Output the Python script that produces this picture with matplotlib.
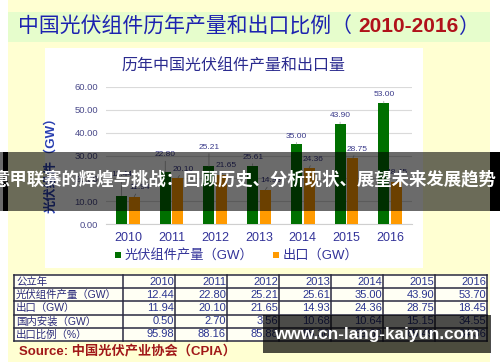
import numpy as np
import matplotlib
matplotlib.use("Agg")
import matplotlib.pyplot as plt
from matplotlib.patches import Rectangle

# ---- data ----
years = ["2010", "2011", "2012", "2013", "2014", "2015", "2016"]
output_gw = [12.44, 22.80, 25.21, 25.61, 35.00, 43.90, 53.00]   # bars in chart
export_gw = [11.94, 20.10, 21.65, 14.93, 24.36, 28.75, 18.45]

row_names = ["公立年", "光伏组件产量（GW）", "出口（GW）", "国内安装（GW）", "出口比例（%）"]
tbl_output = ["12.44", "22.80", "25.21", "25.61", "35.00", "43.90", "53.70"]
tbl_export = ["11.94", "20.10", "21.65", "14.93", "24.36", "28.75", "18.45"]
tbl_domestic = ["0.50", "2.70", "3.56", "10.68", "10.64", "15.15", "34.55"]
tbl_ratio = ["95.98", "88.16", "85.88", "58.30", "69.60", "65.49", "34.36"]

title_main = "中国光伏组件历年产量和出口比例（"
title_years = "2010-2016"
chart_title = "历年中国光伏组件产量和出口量"
banner = "意甲联赛的辉煌与挑战：回顾历史、分析现状、展望未来发展趋势"
watermark = "www.cn-lang-kaiyun.com"

# label offsets (pixels) for the bar value labels
green_dy = [21, 17, 19, 8, 8, 8, 8]
orange_dx = [5, 5, 5, 6, 4, 4, 0]
orange_dy = [9, 9, 9, 9, 9, 9, 9]

CJK = ["Noto Sans CJK SC", "DejaVu Sans"]
LAT = ["Liberation Sans", "Noto Sans CJK SC"]
NAVY = "#333399"
W, H = 500, 362
PT = 72 / 100.0  # px -> pt

fig = plt.figure(figsize=(5, 3.62), dpi=100)

# background layer in pixel coordinates
bg = fig.add_axes([0, 0, 1, 1], zorder=0)
bg.set_xlim(0, W)
bg.set_ylim(H, 0)
bg.axis("off")
bg.add_patch(Rectangle((8, 0), 482, H, color="#ffffd2", lw=0))
bg.add_patch(Rectangle((8, 12), 482, 30, color="#e6fdcc", lw=0))
bg.add_patch(Rectangle((45, 48), 378, 220, color="white", lw=0))

bg.text(18, 27, title_main, family=CJK, fontsize=15, color="#1c22b0",
        ha="left", va="center")
bg.text(358, 27, title_years, family=LAT, fontsize=15, color="#b0121a",
        weight="bold", ha="left", va="center")
bg.text(458, 27, "）", family=CJK, fontsize=15, color="#1c22b0",
        ha="left", va="center")

bg.text(233, 66, chart_title, family=CJK, fontsize=11.5, color="#2b2b8f",
        ha="center", va="center")
bg.text(52, 162, "光伏组件（GW）", family=LAT, fontsize=9.5, weight="bold",
        color="#2a40b0", rotation=90, ha="center", va="center")

# legend
bg.add_patch(Rectangle((115, 252), 6, 6, color="#007000", lw=0))
bg.text(125, 255.5, "光伏组件产量（GW）", family=LAT, fontsize=9.5, color=NAVY,
        ha="left", va="center")
bg.add_patch(Rectangle((273, 252), 6, 6, color="#ff9a00", lw=0))
bg.text(283, 255.5, "出口（GW）", family=LAT, fontsize=9.5, color=NAVY,
        ha="left", va="center")

# table
col_x = [14, 123] + [123 + 52 * (i + 1) for i in range(7)]
row_y = [275 + 13.2 * i for i in range(6)]
bg.add_patch(Rectangle((col_x[0], row_y[0]), col_x[-1] - col_x[0],
                       row_y[-1] - row_y[0], color="#fffff4", lw=0))
for x in col_x:
    bg.plot([x, x], [row_y[0], row_y[-1]], color="#2a2a40", lw=1.1)
for y in row_y:
    bg.plot([col_x[0], col_x[-1]], [y, y], color="#2a2a40", lw=1.1)
rows = [years, tbl_output, tbl_export, tbl_domestic, tbl_ratio]
for r, (name, vals) in enumerate(zip(row_names, rows)):
    yc = (row_y[r] + row_y[r + 1]) / 2
    bg.text(col_x[0] + 2, yc, name, family=LAT, fontsize=7.5, color="#2b2b7a",
            ha="left", va="center")
    for c, v in enumerate(vals):
        bg.text(col_x[c + 2] - 1, yc, v, family=LAT, fontsize=8, color="#2b3590",
                ha="right", va="center")

bg.text(19, 351, "Source: 中国光伏产业协会（CPIA）", family=LAT, fontsize=9.5,
        weight="bold", color="#a01818", ha="left", va="center")

# ---- bar chart ----
ax = fig.add_axes([106 / W, 1 - 224 / H, 306 / W, 137 / H], zorder=1)
ax.patch.set_visible(False)
x = np.arange(len(years))
off, bw = 0.145, 0.25
ax.bar(x - off, output_gw, bw, color="#007000", zorder=3)
ax.bar(x + off, export_gw, bw, color="#ff9a00", zorder=3)
ax.set_xlim(-0.5, len(years) - 0.5)
ax.set_ylim(0, 60)
ax.set_yticks(np.arange(0, 61, 10))
ax.set_yticklabels([f"{v:.2f}" for v in np.arange(0, 61, 10)],
                   family="Liberation Sans", fontsize=6.8, color="#4a4a8a")
ax.set_xticks(x)
ax.set_xticklabels(years, family="Liberation Sans", fontsize=9, color=NAVY)
ax.tick_params(length=0)
ax.tick_params(axis="y", pad=5.5)
ax.tick_params(axis="x", pad=6)
ax.grid(axis="y", color="#dadada", lw=0.8, zorder=0)
for s in ["top", "right", "left"]:
    ax.spines[s].set_visible(False)
ax.spines["bottom"].set_color("#cfcfcf")

line = dict(arrowstyle="-", color="#9a9a9a", lw=0.5, shrinkA=0, shrinkB=0)
for i in range(len(years)):
    ax.annotate(f"{output_gw[i]:.2f}", xy=(x[i] - off, output_gw[i]),
                xytext=(0, green_dy[i] * PT), textcoords="offset points",
                ha="center", va="center", family="Liberation Sans",
                fontsize=6, color="#3a3a8a", arrowprops=line, zorder=4)
    ax.annotate(f"{export_gw[i]:.2f}", xy=(x[i] + off, export_gw[i]),
                xytext=(orange_dx[i] * PT, orange_dy[i] * PT),
                textcoords="offset points", ha="center", va="center",
                family="Liberation Sans", fontsize=6, color="#3a3a8a",
                arrowprops=line, zorder=4)

# ---- overlay: banner and watermark ----
ov = fig.add_axes([0, 0, 1, 1], zorder=2)
ov.set_xlim(0, W)
ov.set_ylim(H, 0)
ov.axis("off")
ov.add_patch(Rectangle((0, 152), W, 59, color="black", alpha=0.58, lw=0))
ov.add_patch(Rectangle((3, 152), 5, 59, color="black", lw=0))
ov.add_patch(Rectangle((490, 152), 10, 59, color="black", lw=0))
ov.text(496, 179, banner, family=CJK, fontsize=12.5, weight="bold",
        color="white", ha="right", va="center")

ov.add_patch(Rectangle((263, 315), 228, 38, color="black", alpha=0.7, lw=0))
ov.text(377, 335, watermark, family="Liberation Sans", fontsize=12.3,
        weight="bold", color="white", ha="center", va="center")

fig.savefig("out.png", dpi=100)
